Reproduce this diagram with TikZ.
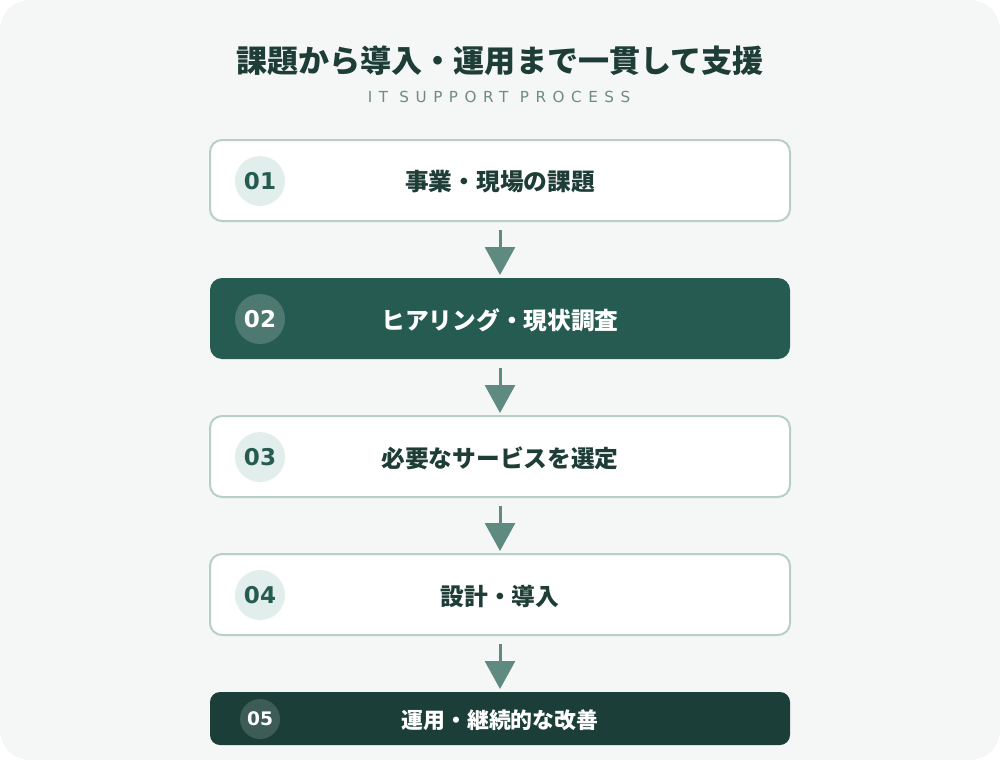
\documentclass[tikz,border=0pt]{standalone}
\usepackage{fontspec}
\usepackage{xcolor}
\setmainfont{DejaVu Sans}
\newfontfamily\cjk{Noto Sans CJK JP}
\usetikzlibrary{arrows.meta}
\definecolor{itBack}{RGB}{244, 247, 246}
\definecolor{itDark}{RGB}{30, 61, 54}
\definecolor{itGray}{RGB}{110, 138, 131}
\definecolor{itLine}{RGB}{184, 207, 200}
\definecolor{itGreen}{RGB}{38, 91, 81}
\definecolor{itDeep}{RGB}{27, 63, 56}
\definecolor{itArrow}{RGB}{94, 138, 127}
\definecolor{itMint}{RGB}{226, 238, 235}

\begin{document}
\begin{tikzpicture}[x=0.75pt,y=-0.75pt]
    \tikzstyle{stepbox} = [draw=itLine, line width=1.5pt, fill=white, rounded corners=9pt, minimum width=435pt, minimum height=60.75pt, inner sep=0pt]
    \tikzstyle{darkbox} = [stepbox, draw=none, fill=itGreen]
    \tikzstyle{lastbox} = [stepbox, draw=none, fill=itDeep, rounded corners=7.5pt, minimum height=39.75pt]
    \tikzstyle{num} = [circle, fill=itMint, minimum size=37.5pt, inner sep=0pt, text=itGreen, font=\bfseries\fontsize{17.3}{19}\selectfont]
    \tikzstyle{label} = [text=itDark, font=\cjk\bfseries\fontsize{17.8}{20}\selectfont]
    \tikzstyle{flow} = [-{Triangle[width=22.5pt,length=21pt]}, itArrow, line width=2.25pt, shorten <=6pt, shorten >=1.5pt]
    \useasboundingbox (0,0) rectangle (1000,760);
    \fill[itBack, rounded corners=22.5pt] (0,0) rectangle (1000,760);
    % title
    \node[text=itDark, font=\cjk\bfseries\fontsize{23.3}{26}\selectfont] (title) at (500,61) {課題から導入・運用まで一貫して支援};
    \node[text=itGray, font=\fontsize{11.4}{13}\selectfont\addfontfeatures{LetterSpace=43}] (subtitle) at (499,97) {IT SUPPORT PROCESS};
    % steps
    \node[stepbox] (s1) at (500,180.5) {};
    \node[darkbox] (s2) at (500,318.5) {};
    \node[stepbox] (s3) at (500,456.5) {};
    \node[stepbox] (s4) at (500,594.5) {};
    \node[lastbox] (s5) at (500,718.5) {};
    \node[num] (n1) at (260,181) {01};
    \node[num, fill=white!18!itGreen, text=white] (n2) at (260,319) {02};
    \node[num] (n3) at (260,457) {03};
    \node[num] (n4) at (260,595) {04};
    \node[num, fill=white!15!itDeep, text=white, minimum size=30pt, font=\bfseries\fontsize{14}{16}\selectfont] (n5) at (260,719) {05};
    \node[label] (l1) at (500,182) {事業・現場の課題};
    \node[label, text=white] (l2) at (500,320) {ヒアリング・現状調査};
    \node[label] (l3) at (500,458) {必要なサービスを選定};
    \node[label] (l4) at (500,596) {設計・導入};
    \node[label, text=white, font=\cjk\bfseries\fontsize{16.4}{18}\selectfont] (l5) at (500,720) {運用・継続的な改善};
    % arrows
    \draw[flow] (s1) -- (s2);
    \draw[flow] (s2) -- (s3);
    \draw[flow] (s3) -- (s4);
    \draw[flow] (s4) -- (s5);
\end{tikzpicture}
\end{document}
